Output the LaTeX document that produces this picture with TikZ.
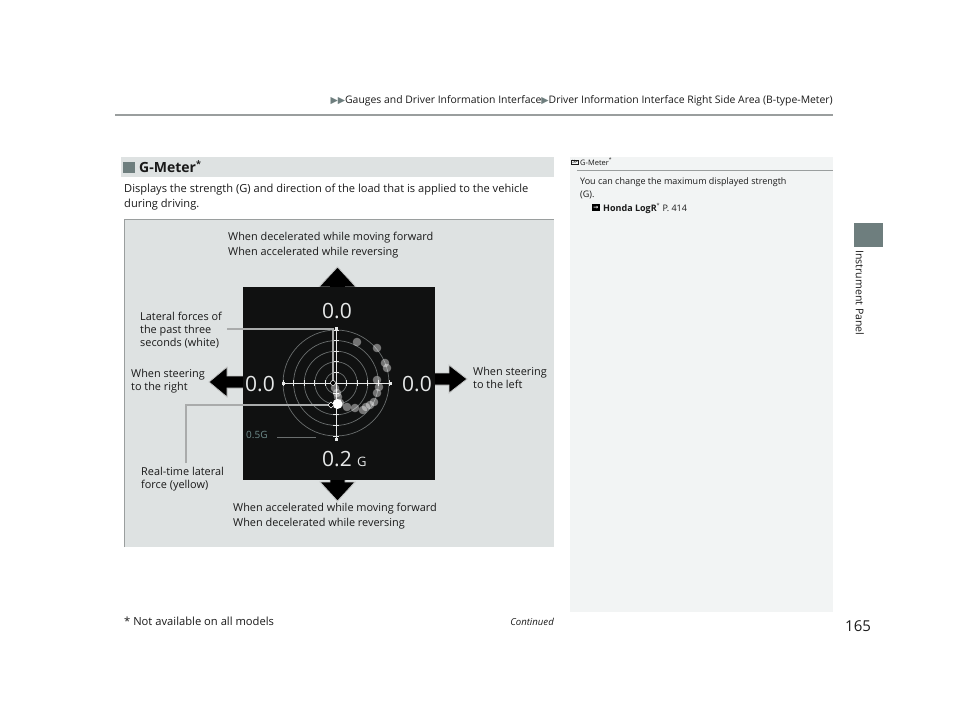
\documentclass[tikz,border=0pt]{standalone}
\usepackage{fontspec}
\setmainfont{Open Sans}
\newfontfamily\dejavu{DejaVu Sans}
\definecolor{tabgrey}{HTML}{6E7E7E}
\definecolor{figbg}{HTML}{DEE2E2}
\definecolor{notebg}{HTML}{F2F4F4}
\definecolor{rulegrey}{HTML}{9A9E9E}
\definecolor{txt}{HTML}{1A1A1A}
\definecolor{gaugebg}{HTML}{101111}
\definecolor{gaugetxt}{HTML}{E6E8E8}
\definecolor{ringgrey}{HTML}{6A6E6E}
\definecolor{calloutgrey}{HTML}{A9ABAB}
\definecolor{tealgrey}{HTML}{6F8C8C}
\tikzset{
  lbl/.style={font=\fontsize{10.9}{13}\selectfont, align=left, inner sep=0pt, anchor=base west, text=txt},
  dirlbl/.style={font=\fontsize{10.9}{14.5}\selectfont, align=left, inner sep=0pt, anchor=base west, text=txt},
  body/.style={font=\fontsize{11.1}{15}\selectfont, align=left, inner sep=0pt, anchor=base west, text=txt},
  note/.style={font=\fontsize{9}{13.3}\selectfont, align=left, inner sep=0pt, anchor=base west, text=txt},
  bigdigit/.style={font=\fontsize{21}{21}\selectfont, inner sep=0pt, text=gaugetxt},
  bigarrow/.style={fill=black, draw=figbg!70!gray, line width=0.8pt},
  callout/.style={draw=calloutgrey, line width=1.8pt},
  cross/.style={draw=gaugetxt, line width=0.9pt},
  ring/.style={draw=ringgrey, line width=0.7pt},
  blob/.style={fill=white, fill opacity=0.42},
}
\begin{document}
\begin{tikzpicture}[x=1pt,y=-1pt]
\useasboundingbox[fill=white] (0,0) rectangle (960,722);

% ---------- header ----------
\node[inner sep=0pt, anchor=base east, font=\fontsize{10.4}{10.4}\selectfont, text=txt] (crumb) at (833,103.5)
  {\textcolor{tabgrey}{\dejavu\fontsize{9.5}{9.5}\selectfont ▶▶}Gauges and Driver Information Interface\textcolor{tabgrey}{\dejavu\fontsize{9.5}{9.5}\selectfont ▶}Driver Information Interface Right Side Area (B-type-Meter)};
\draw[rulegrey, line width=1.2pt] (115,115) -- (833,115);

% ---------- right tab ----------
\fill[tabgrey] (854,223) rectangle (883,247);
\node[rotate=-90, anchor=north west, inner sep=0pt, font=\fontsize{10.6}{10.6}\selectfont, text=txt] (tab) at (864,250) {Instrument Panel};

% ---------- section header ----------
\fill[figbg] (121,157) rectangle (554,177);
\fill[tabgrey] (123,162) rectangle (135,173);
\node[inner sep=0pt, anchor=base west, font=\fontsize{14}{14}\selectfont\bfseries, text=txt] (title) at (139,172.5) {G-Meter\textsuperscript{\fontsize{9}{9}\selectfont *}};
\node[body] (intro) at (124,207.5) {Displays the strength (G) and direction of the load that is applied to the vehicle\\during driving.};

% ---------- side note ----------
\fill[notebg] (570,157) rectangle (833,612);
\node[inner sep=0.6pt, draw=txt, line width=0.4pt, font=\dejavu\fontsize{5.5}{5.5}\selectfont, text=txt] (noteicon) at (575,162) {≫};
\node[inner sep=0pt, anchor=base west, font=\fontsize{7.5}{7.5}\selectfont, text=txt] (notehead) at (580,165) {G-Meter\textsuperscript{\fontsize{5}{5}\selectfont *}};
\draw[rulegrey, line width=0.8pt] (577,170.5) -- (833,170.5);
\node[note] (notebody) at (580,197.5) {You can change the maximum displayed strength\\(G).};
\node[fill=black, minimum size=7.5pt, inner sep=0pt, text=white, font=\dejavu\bfseries\fontsize{6}{6}\selectfont] (refico) at (596,207.5) {→};
\node[note] (refer) at (603,211.5) {\textbf{Honda LogR}\textsuperscript{\fontsize{5.5}{5.5}\selectfont *} P. 414};

% ---------- figure area ----------
\fill[figbg] (124,219) rectangle (554,547);
\draw[rulegrey, line width=1pt] (124,547) -- (124,219) -- (554,219);

% arrows
\draw[bigarrow] (329.5,298) -- (329.5,287) -- (319,287) -- (337.5,267) -- (356,287) -- (345.5,287) -- (345.5,298) -- cycle;
\draw[bigarrow] (330,470) -- (330,482) -- (320,482) -- (337.5,501) -- (355,482) -- (345,482) -- (345,470) -- cycle;
\draw[bigarrow] (248,376) -- (227,376) -- (227,367) -- (209,382) -- (227,397) -- (227,388) -- (248,388) -- cycle;
\draw[bigarrow] (430,373) -- (449,373) -- (449,365) -- (467,379) -- (449,393) -- (449,385) -- (430,385) -- cycle;

% gauge screen
\fill[gaugebg] (243,287) rectangle (435,480);
\foreach \r in {10.6,21.2,31.8,42.4,53} \draw[ring] (336,383) circle (\r);
\draw[cross] (283,383) -- (390,383);
\draw[cross] (336,328) -- (336,439);
\foreach \i in {-5,...,5} {
  \draw[cross, line width=0.7pt] (336+10.6*\i,380) -- (336+10.6*\i,386);
  \draw[cross, line width=0.7pt] (333,383+10.6*\i) -- (339,383+10.6*\i);
}
\fill[gaugetxt] (281.5,381.5) rectangle (284.5,384.5);
\fill[gaugetxt] (388.5,381.5) rectangle (391.5,384.5);
\fill[gaugetxt] (334.5,326.5) rectangle (337.5,329.5);
\fill[gaugetxt] (334.5,437.5) rectangle (337.5,440.5);

% trail of lateral forces
\foreach \p in {(357,342),(377,348),(385,363),(387,368),(377,380),(379,387),(377,393),
                (370,405),(363,410),(355,408),(347,407),(340,403),(337,393),(335,388),(338,397),(366,407),(374,402)}
  \fill[blob] \p circle (4.3);

\node[bigdigit] (top) at (337,311) {0.0};
\node[bigdigit] (left) at (260,384) {0.0};
\node[bigdigit] (right) at (417,384) {0.0};
\node[bigdigit, anchor=base] (bottom) at (337,466) {0.2};
\node[inner sep=0pt, anchor=base west, font=\fontsize{13}{13}\selectfont, text=gaugetxt] (gunit) at (357,466) {G};
\node[inner sep=0pt, anchor=base west, font=\fontsize{10}{10}\selectfont, text=tealgrey] (scale) at (246,438) {0.5G};
\draw[ringgrey, line width=0.6pt] (277,437.5) -- (316,437.5);

% callouts
\node[lbl] (lateral) at (140,346) {Lateral forces of\\the past three\\seconds (white)};
\node[lbl] (realtime) at (141,488.5) {Real-time lateral\\force (yellow)};
\coordinate (c1a) at (227,329);
\coordinate (c1b) at (333,329);
\coordinate (c1end) at (333,383);
\draw[callout] (c1a) -- (c1b) -- (c1end);
\coordinate (c2a) at (186,463);
\coordinate (c2b) at (186,405);
\coordinate (c2end) at (329,405);
\draw[callout] (c2a) -- (c2b) -- (c2end);
\fill[black, draw=white, line width=0.5pt] (333,383) circle (2.5);
\fill[white] (337.5,404) circle (5);
\fill[black, draw=white, line width=0.6pt] (331,402) -- (334,405) -- (331,408) -- (328,405) -- cycle;

% direction labels
\node[dirlbl] (upl) at (228,255) {When decelerated while moving forward\\When accelerated while reversing};
\node[dirlbl] (downl) at (233,526) {When accelerated while moving forward\\When decelerated while reversing};
\node[lbl] (rightl) at (131,390) {When steering\\to the right};
\node[lbl] (leftl) at (473,388) {When steering\\to the left};

% ---------- footer ----------
\node[inner sep=0pt, anchor=base west, font=\fontsize{11.2}{11.2}\selectfont, text=txt] (foot) at (124,625) {* Not available on all models};
\node[inner sep=0pt, anchor=base east, font=\fontsize{9.6}{9.6}\selectfont\itshape, text=txt] (cont) at (554,625) {Continued};
\node[inner sep=0pt, anchor=base west, font=\fontsize{15}{15}\selectfont, text=txt] (pageno) at (845,631) {165};
\end{tikzpicture}
\end{document}
